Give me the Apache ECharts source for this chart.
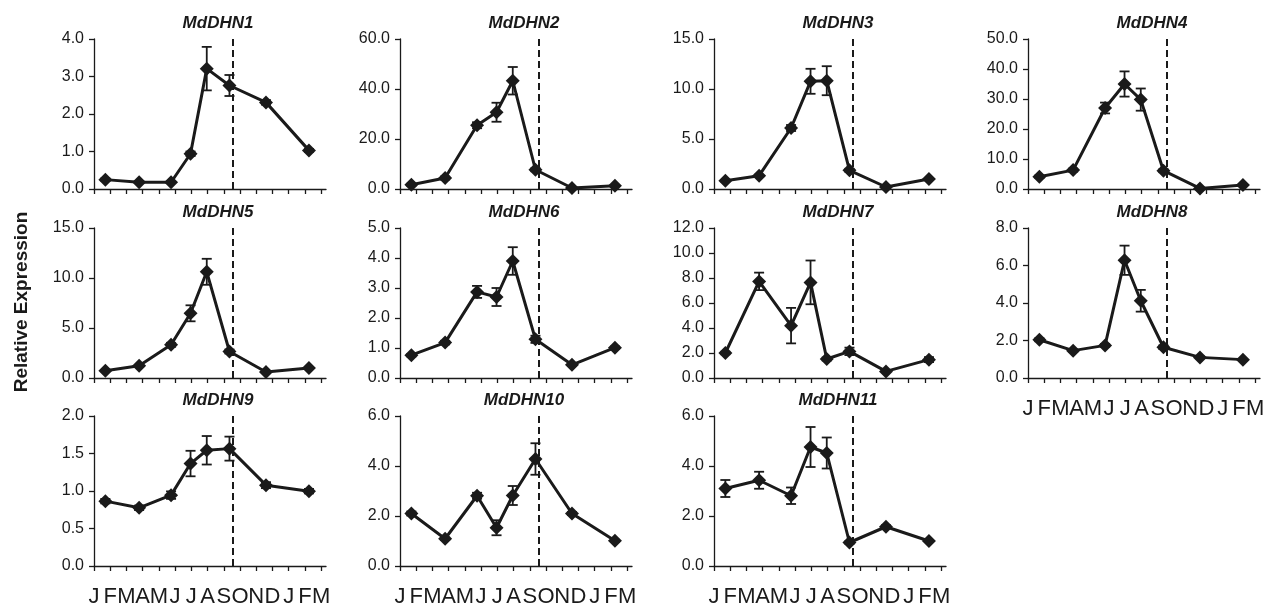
<!DOCTYPE html>
<html>
<head>
<meta charset="utf-8">
<script src="https://cdn.jsdelivr.net/npm/echarts@6/dist/echarts.min.js"></script>
<style>
  html, body { margin: 0; padding: 0; background: #fff; }
  #chart { width: 1277px; height: 609px; }
</style>
</head>
<body>
<div id="chart"></div>
<script>
// month tick labels (Jan of year 1 to Mar of year 2)
const months = ["J", "F", "M", "A", "M", "J", "J", "A", "S", "O", "N", "D", "J", "F", "M"];
// sampling dates, in months from the first tick
const sampleX = [0.7, 2.78, 4.75, 5.95, 6.95, 8.35, 10.6, 13.25];
// dashed line position
const dormancyX = 8.55;

const genes = ["MdDHN1", "MdDHN2", "MdDHN3", "MdDHN4", "MdDHN5", "MdDHN6",
  "MdDHN7", "MdDHN8", "MdDHN9", "MdDHN10", "MdDHN11"];

// mean values and error (SD) per gene
const dhn1 = [0.25, 0.18, 0.18, 0.94, 3.21, 2.76, 2.31, 1.03];
const dhn1Err = [0.03, 0.02, 0.02, 0.06, 0.58, 0.28, 0.06, 0.04];
const dhn2 = [1.7, 4.4, 25.5, 30.7, 43.3, 7.7, 0.4, 1.3];
const dhn2Err = [0.4, 0.6, 1.2, 3.8, 5.5, 0.6, 0.1, 0.2];
const dhn3 = [0.83, 1.33, 6.1, 10.77, 10.83, 1.87, 0.2, 1.0];
const dhn3Err = [0.08, 0.1, 0.3, 1.25, 1.45, 0.15, 0.05, 0.08];
const dhn4 = [4.1, 6.3, 27.0, 35.0, 29.8, 6.1, 0.2, 1.3];
const dhn4Err = [0.4, 0.5, 1.8, 4.2, 3.7, 0.5, 0.1, 0.2];
const dhn5 = [0.73, 1.23, 3.32, 6.47, 10.62, 2.65, 0.6, 1.0];
const dhn5Err = [0.05, 0.08, 0.2, 0.8, 1.3, 0.2, 0.05, 0.06];
const dhn6 = [0.76, 1.18, 2.87, 2.7, 3.9, 1.29, 0.44, 1.01];
const dhn6Err = [0.04, 0.06, 0.2, 0.3, 0.46, 0.12, 0.03, 0.04];
const dhn7 = [2.0, 7.73, 4.19, 7.65, 1.52, 2.13, 0.53, 1.47];
const dhn7Err = [0.1, 0.7, 1.42, 1.75, 0.12, 0.3, 0.06, 0.2];
const dhn8 = [2.04, 1.46, 1.74, 6.28, 4.12, 1.64, 1.1, 0.98];
const dhn8Err = [0.08, 0.06, 0.08, 0.78, 0.58, 0.1, 0.05, 0.04];
const dhn9 = [0.865, 0.776, 0.945, 1.366, 1.543, 1.565, 1.078, 0.998];
const dhn9Err = [0.03, 0.03, 0.05, 0.17, 0.19, 0.16, 0.04, 0.03];
const dhn10 = [2.1, 1.09, 2.81, 1.53, 2.82, 4.28, 2.1, 1.01];
const dhn10Err = [0.08, 0.05, 0.12, 0.3, 0.38, 0.63, 0.06, 0.04];
const dhn11 = [3.1, 3.43, 2.81, 4.76, 4.52, 0.94, 1.57, 1.0];
const dhn11Err = [0.34, 0.34, 0.33, 0.8, 0.62, 0.05, 0.06, 0.04];

// y axis ranges per panel
const yMax = [4, 60, 15, 50, 15, 5, 12, 8, 2, 6, 6];
const yStep = [1, 20, 5, 10, 5, 1, 2, 2, 0.5, 2, 2];

const values = [dhn1, dhn2, dhn3, dhn4, dhn5, dhn6, dhn7, dhn8, dhn9, dhn10, dhn11];
const errors = [dhn1Err, dhn2Err, dhn3Err, dhn4Err, dhn5Err, dhn6Err, dhn7Err, dhn8Err, dhn9Err, dhn10Err, dhn11Err];

const FONT = "'Liberation Sans', Arial, Helvetica, sans-serif";
const INK = "#1a1a1a";

// layout of the 3x4 panel grid
const colLeft = [94, 400, 714, 1028];
const rowTop = [39, 228, 416];
const gridW = 232;
const gridH = 150;
const xMax = 14.3;
const withMonths = [7, 8, 9, 10];

const chart = echarts.init(document.getElementById("chart"));

let grids = [], xAxes = [], yAxes = [], series = [], titles = [];

genes.forEach((gene, i) => {
  const row = Math.floor(i / 4);
  const col = i % 4;
  grids.push({ left: colLeft[col], top: rowTop[row], width: gridW, height: gridH });

  titles.push({
    text: gene,
    left: colLeft[col] + gridW / 2 + 3,
    top: rowTop[row] - 29,
    textAlign: "center",
    textStyle: { fontFamily: FONT, fontSize: 17, fontWeight: "bold", fontStyle: "italic", color: INK },
  });

  const showMonths = withMonths.indexOf(i) >= 0;
  xAxes.push({
    gridIndex: i,
    type: "value",
    min: 0,
    max: xMax,
    interval: 1,
    axisLine: { lineStyle: { color: INK, width: 1.3 } },
    axisTick: {
      show: true, length: 5, lineStyle: { color: INK, width: 1.3 },
      customValues: months.map((m, k) => k),
    },
    axisLabel: {
      show: showMonths,
      customValues: months.map((m, k) => k),
      margin: 20,
      fontFamily: FONT,
      fontSize: 22,
      color: INK,
      formatter: (v) => (Number.isInteger(v) ? months[v] : ""),
    },
    splitLine: { show: false },
  });

  yAxes.push({
    gridIndex: i,
    type: "value",
    min: 0,
    max: yMax[i],
    interval: yStep[i],
    axisLine: { show: true, lineStyle: { color: INK, width: 1.3 } },
    axisTick: { show: true, length: 5, lineStyle: { color: INK, width: 1.3 } },
    axisLabel: {
      margin: 10,
      fontFamily: FONT,
      fontSize: 16,
      color: INK,
      formatter: (v) => v.toFixed(1),
    },
    splitLine: { show: false },
  });

  const pts = sampleX.map((x, k) => [x, values[i][k], errors[i][k]]);

  // error bars
  series.push({
    type: "custom",
    xAxisIndex: i,
    yAxisIndex: i,
    z: 1,
    silent: true,
    data: pts,
    renderItem: (params, api) => {
      const x = api.value(0), y = api.value(1), e = api.value(2);
      const top = api.coord([x, y + e]);
      const bot = api.coord([x, Math.max(0, y - e)]);
      const w = 5;
      const st = { stroke: INK, lineWidth: 1.8 };
      return {
        type: "group",
        children: [
          { type: "line", shape: { x1: top[0], y1: top[1], x2: bot[0], y2: bot[1] }, style: st },
          { type: "line", shape: { x1: top[0] - w, y1: top[1], x2: top[0] + w, y2: top[1] }, style: st },
          { type: "line", shape: { x1: bot[0] - w, y1: bot[1], x2: bot[0] + w, y2: bot[1] }, style: st },
        ],
      };
    },
  });

  series.push({
    type: "line",
    xAxisIndex: i,
    yAxisIndex: i,
    z: 3,
    data: pts.map((p) => [p[0], p[1]]),
    symbol: "diamond",
    symbolSize: [14, 14],
    lineStyle: { color: INK, width: 3 },
    itemStyle: { color: INK },
    animation: false,
    markLine: {
      silent: true,
      symbol: "none",
      label: { show: false },
      lineStyle: { color: INK, width: 2, type: [7, 4] },
      data: [[{ coord: [dormancyX, yMax[i]] }, { coord: [dormancyX, 0] }]],
    },
  });
});

const option = {
  animation: false,
  backgroundColor: "#fff",
  title: titles,
  grid: grids,
  xAxis: xAxes,
  yAxis: yAxes,
  series: series,
  graphic: [
    {
      type: "text",
      x: 22,
      y: 302,
      rotation: Math.PI / 2,
      style: {
        text: "Relative Expression",
        font: "bold 19px " + FONT,
        fill: INK,
        align: "center",
        verticalAlign: "middle",
      },
    },
  ],
};

chart.setOption(option);
</script>
</body>
</html>
